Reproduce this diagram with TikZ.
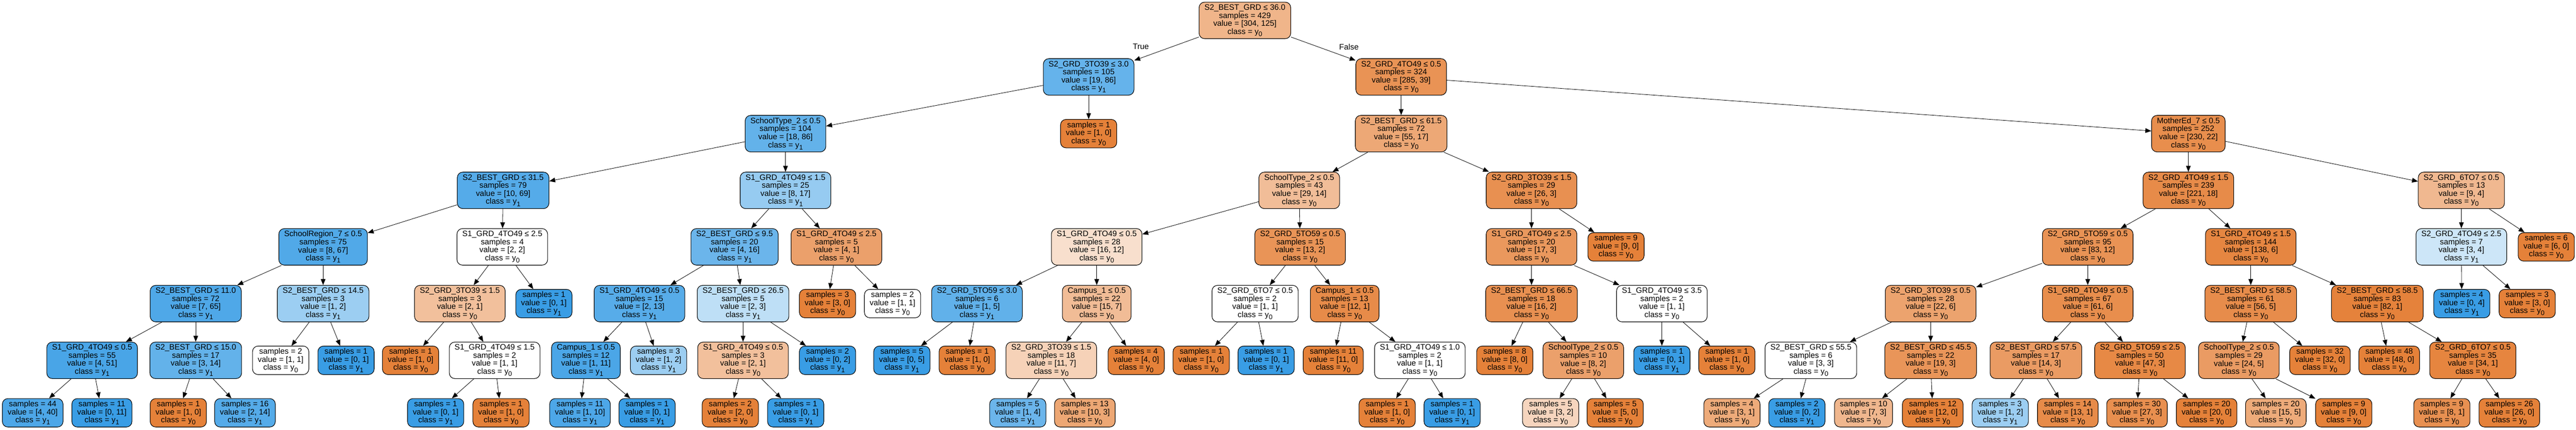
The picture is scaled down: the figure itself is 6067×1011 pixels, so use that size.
\documentclass[tikz,border=0pt]{standalone}
\usepackage{fontspec}
\setmainfont{Liberation Sans}
\usetikzlibrary{arrows.meta}
\definecolor{cz}{RGB}{229,129,57}
\definecolor{co}{RGB}{57,157,229}
\newcommand{\nodefont}{\fontsize{18.67pt}{18.9pt}\selectfont}
\newcommand{\ysub}[1]{y\raisebox{-5pt}{\fontsize{15.5pt}{15.5pt}\selectfont #1}}
\newcommand{\tnode}[8]{\node[tn,fill=#4] (#1) at (#2,-#3) {#5\\samples = #6\\value = [#7]\\class = \ysub{#8}};}
\newcommand{\tleaf}[7]{\node[tl,fill=#4] (#1) at (#2,-#3) {samples = #5\\value = [#6]\\class = \ysub{#7}};}
\tikzset{
  tn/.style={draw=black, line width=1.3pt, rounded corners=13pt, align=center, font=\nodefont,
             inner xsep=12.5pt, inner ysep=0pt, minimum height=86pt},
  tl/.style={tn, minimum height=67pt},
  edg/.style={-{Triangle[length=14pt,width=11pt]}, line width=1pt, draw=black},
  lbl/.style={font=\nodefont, inner sep=0pt}
}
\begin{document}
\begin{tikzpicture}[x=1pt,y=1pt]
\useasboundingbox (0,0) rectangle (6067,-1011);
% level 0
\tnode{r}{2932}{48}{cz!59}{S2\_BEST\_GRD ≤ 36.0}{429}{304, 125}{0}
% level 1
\tnode{a}{2564}{181}{co!78}{S2\_GRD\_3TO39 ≤ 3.0}{105}{19, 86}{1}
\tnode{b}{3300}{181}{cz!86}{S2\_GRD\_4TO49 ≤ 0.5}{324}{285, 39}{0}
% level 2
\tnode{aa}{1850}{314.5}{co!79}{SchoolType\_2 ≤ 0.5}{104}{18, 86}{1}
\tleaf{ab}{2564}{314.5}{cz}{1}{1, 0}{0}
\tnode{ba}{3300}{314.5}{cz!69}{S2\_BEST\_GRD ≤ 61.5}{72}{55, 17}{0}
\tnode{bb}{5154}{314.5}{cz!90}{MotherEd\_7 ≤ 0.5}{252}{230, 22}{0}
% level 3
\tnode{aaa}{1185}{448}{co!86}{S2\_BEST\_GRD ≤ 31.5}{79}{10, 69}{1}
\tnode{aab}{1850}{448}{co!53}{S1\_GRD\_4TO49 ≤ 1.5}{25}{8, 17}{1}
\tnode{baa}{3060}{448}{cz!52}{SchoolType\_2 ≤ 0.5}{43}{29, 14}{0}
\tnode{bab}{3607}{448}{cz!88}{S2\_GRD\_3TO39 ≤ 1.5}{29}{26, 3}{0}
\tnode{bba}{5154}{448}{cz!92}{S2\_GRD\_4TO49 ≤ 1.5}{239}{221, 18}{0}
\tnode{bbb}{5797}{448}{cz!56}{S2\_GRD\_6TO7 ≤ 0.5}{13}{9, 4}{0}
% level 4
\tnode{d1}{761}{581}{co!88}{SchoolRegion\_7 ≤ 0.5}{75}{8, 67}{1}
\tnode{d2}{1183}{581}{white}{S1\_GRD\_4TO49 ≤ 2.5}{4}{2, 2}{0}
\tnode{d3}{1730}{581}{co!75}{S2\_BEST\_GRD ≤ 9.5}{20}{4, 16}{1}
\tnode{d4}{1970}{581}{cz!75}{S1\_GRD\_4TO49 ≤ 2.5}{5}{4, 1}{0}
\tnode{d5}{2583}{581}{cz!25}{S1\_GRD\_4TO49 ≤ 0.5}{28}{16, 12}{0}
\tnode{d6}{3062}{581}{cz!85}{S2\_GRD\_5TO59 ≤ 0.5}{15}{13, 2}{0}
\tnode{d7}{3607}{581}{cz!82}{S1\_GRD\_4TO49 ≤ 2.5}{20}{17, 3}{0}
\tleaf{d8}{3806}{581}{cz}{9}{9, 0}{0}
\tnode{d9}{4917}{581}{cz!86}{S2\_GRD\_5TO59 ≤ 0.5}{95}{83, 12}{0}
\tnode{d10}{5301}{581}{cz!96}{S1\_GRD\_4TO49 ≤ 1.5}{144}{138, 6}{0}
\tnode{d11}{5797}{581}{co!25}{S2\_GRD\_4TO49 ≤ 2.5}{7}{3, 4}{1}
\tleaf{d12}{5997}{581}{cz}{6}{6, 0}{0}
% level 5
\tnode{e1}{461}{714.5}{co!89}{S2\_BEST\_GRD ≤ 11.0}{72}{7, 65}{1}
\tnode{e2}{761}{714.5}{co!50}{S2\_BEST\_GRD ≤ 14.5}{3}{1, 2}{1}
\tnode{e3}{1083}{714.5}{cz!50}{S2\_GRD\_3TO39 ≤ 1.5}{3}{2, 1}{0}
\tleaf{e4}{1281}{714.5}{co}{1}{0, 1}{1}
\tnode{e5}{1506}{714.5}{co!85}{S1\_GRD\_4TO49 ≤ 0.5}{15}{2, 13}{1}
\tnode{e6}{1750}{714.5}{co!33}{S2\_BEST\_GRD ≤ 26.5}{5}{2, 3}{1}
\tleaf{e7}{1949}{714.5}{cz}{3}{3, 0}{0}
\tleaf{e8}{2102}{714.5}{white}{2}{1, 1}{0}
\tnode{e9}{2301}{714.5}{co!80}{S2\_GRD\_5TO59 ≤ 3.0}{6}{1, 5}{1}
\tnode{e10}{2583}{714.5}{cz!53}{Campus\_1 ≤ 0.5}{22}{15, 7}{0}
\tnode{e11}{2956}{714.5}{white}{S2\_GRD\_6TO7 ≤ 0.5}{2}{1, 1}{0}
\tnode{e12}{3167}{714.5}{cz!92}{Campus\_1 ≤ 0.5}{13}{12, 1}{0}
\tnode{e13}{3607}{714.5}{cz!88}{S2\_BEST\_GRD ≤ 66.5}{18}{16, 2}{0}
\tnode{e14}{3914}{714.5}{white}{S1\_GRD\_4TO49 ≤ 3.5}{2}{1, 1}{0}
\tnode{e15}{4547}{714.5}{cz!73}{S2\_GRD\_3TO39 ≤ 0.5}{28}{22, 6}{0}
\tnode{e16}{4917}{714.5}{cz!90}{S1\_GRD\_4TO49 ≤ 0.5}{67}{61, 6}{0}
\tnode{e17}{5301}{714.5}{cz!91}{S2\_BEST\_GRD ≤ 58.5}{61}{56, 5}{0}
\tnode{e18}{5599}{714.5}{cz!99}{S2\_BEST\_GRD ≤ 58.5}{83}{82, 1}{0}
\tleaf{e19}{5798}{714.5}{co}{4}{0, 4}{1}
\tleaf{e20}{5952}{714.5}{cz}{3}{3, 0}{0}
% level 6
\tnode{f1}{217}{848}{co!92}{S1\_GRD\_4TO49 ≤ 0.5}{55}{4, 51}{1}
\tnode{f2}{461}{848}{co!79}{S2\_BEST\_GRD ≤ 15.0}{17}{3, 14}{1}
\tleaf{f3}{661}{848}{white}{2}{1, 1}{0}
\tleaf{f4}{815}{848}{co}{1}{0, 1}{1}
\tleaf{f5}{967}{848}{cz}{1}{1, 0}{0}
\tnode{f6}{1165}{848}{white}{S1\_GRD\_4TO49 ≤ 1.5}{2}{1, 1}{0}
\tnode{f7}{1380}{848}{co!91}{Campus\_1 ≤ 0.5}{12}{1, 11}{1}
\tleaf{f8}{1551}{848}{co!50}{3}{1, 2}{1}
\tnode{f9}{1750}{848}{cz!50}{S1\_GRD\_4TO49 ≤ 0.5}{3}{2, 1}{0}
\tleaf{f10}{1949}{848}{co}{2}{0, 2}{1}
\tleaf{f11}{2124}{848}{co}{5}{0, 5}{1}
\tleaf{f12}{2278}{848}{cz}{1}{1, 0}{0}
\tnode{f13}{2476}{848}{cz!36}{S2\_GRD\_3TO39 ≤ 1.5}{18}{11, 7}{0}
\tleaf{f14}{2676}{848}{cz}{4}{4, 0}{0}
\tleaf{f15}{2829}{848}{cz}{1}{1, 0}{0}
\tleaf{f16}{2982}{848}{co}{1}{0, 1}{1}
\tleaf{f17}{3140}{848}{cz}{11}{11, 0}{0}
\tnode{f18}{3344}{848}{white}{S1\_GRD\_4TO49 ≤ 1.0}{2}{1, 1}{0}
\tleaf{f19}{3544}{848}{cz}{8}{8, 0}{0}
\tnode{f20}{3729}{848}{cz!75}{SchoolType\_2 ≤ 0.5}{10}{8, 2}{0}
\tleaf{f21}{3914}{848}{co}{1}{0, 1}{1}
\tleaf{f22}{4067}{848}{cz}{1}{1, 0}{0}
\tnode{f23}{4265}{848}{white}{S2\_BEST\_GRD ≤ 55.5}{6}{3, 3}{0}
\tnode{f24}{4547}{848}{cz!84}{S2\_BEST\_GRD ≤ 45.5}{22}{19, 3}{0}
\tnode{f25}{4795}{848}{cz!79}{S2\_BEST\_GRD ≤ 57.5}{17}{14, 3}{0}
\tnode{f26}{5040}{848}{cz!94}{S2\_GRD\_5TO59 ≤ 2.5}{50}{47, 3}{0}
\tnode{f27}{5273}{848}{cz!79}{SchoolType\_2 ≤ 0.5}{29}{24, 5}{0}
\tleaf{f28}{5464}{848}{cz}{32}{32, 0}{0}
\tleaf{f29}{5627}{848}{cz}{48}{48, 0}{0}
\tnode{f30}{5824}{848}{cz!97}{S2\_GRD\_6TO7 ≤ 0.5}{35}{34, 1}{0}
% level 7
\tleaf{g1}{77}{971.5}{co!90}{44}{4, 40}{1}
\tleaf{g2}{240}{971.5}{co}{11}{0, 11}{1}
\tleaf{g3}{420}{971.5}{cz}{1}{1, 0}{0}
\tleaf{g4}{577}{971.5}{co!86}{16}{2, 14}{1}
\tleaf{g5}{1026}{971.5}{co}{1}{0, 1}{1}
\tleaf{g6}{1180}{971.5}{cz}{1}{1, 0}{0}
\tleaf{g7}{1366}{971.5}{co!90}{11}{1, 10}{1}
\tleaf{g8}{1524}{971.5}{co}{1}{0, 1}{1}
\tleaf{g9}{1720}{971.5}{cz}{2}{2, 0}{0}
\tleaf{g10}{1874}{971.5}{co}{1}{0, 1}{1}
\tleaf{g11}{2397}{971.5}{co!75}{5}{1, 4}{1}
\tleaf{g12}{2555}{971.5}{cz!70}{13}{10, 3}{0}
\tleaf{g13}{3267}{971.5}{cz}{1}{1, 0}{0}
\tleaf{g14}{3420}{971.5}{co}{1}{0, 1}{1}
\tleaf{g15}{3652}{971.5}{cz!33}{5}{3, 2}{0}
\tleaf{g16}{3804}{971.5}{cz}{5}{5, 0}{0}
\tleaf{g17}{4079}{971.5}{cz!67}{4}{3, 1}{0}
\tleaf{g18}{4232}{971.5}{co}{2}{0, 2}{1}
\tleaf{g19}{4389}{971.5}{cz!57}{10}{7, 3}{0}
\tleaf{g20}{4552}{971.5}{cz}{12}{12, 0}{0}
\tleaf{g21}{4711}{971.5}{co!50}{3}{1, 2}{1}
\tleaf{g22}{4870}{971.5}{cz!92}{14}{13, 1}{0}
\tleaf{g23}{5033}{971.5}{cz!89}{30}{27, 3}{0}
\tleaf{g24}{5197}{971.5}{cz}{20}{20, 0}{0}
\tleaf{g25}{5360}{971.5}{cz!67}{20}{15, 5}{0}
\tleaf{g26}{5520}{971.5}{cz}{9}{9, 0}{0}
\tleaf{g27}{5751}{971.5}{cz!88}{9}{8, 1}{0}
\tleaf{g28}{5910}{971.5}{cz}{26}{26, 0}{0}
% edges
\foreach \p/\c in {r/a, r/b, a/aa, a/ab, b/ba, b/bb,
  aa/aaa, aa/aab, ba/baa, ba/bab, bb/bba, bb/bbb,
  aaa/d1, aaa/d2, aab/d3, aab/d4, baa/d5, baa/d6, bab/d7, bab/d8, bba/d9, bba/d10, bbb/d11, bbb/d12,
  d1/e1, d1/e2, d2/e3, d2/e4, d3/e5, d3/e6, d4/e7, d4/e8, d5/e9, d5/e10, d6/e11, d6/e12,
  d7/e13, d7/e14, d9/e15, d9/e16, d10/e17, d10/e18, d11/e19, d11/e20,
  e1/f1, e1/f2, e2/f3, e2/f4, e3/f5, e3/f6, e5/f7, e5/f8, e6/f9, e6/f10, e9/f11, e9/f12,
  e10/f13, e10/f14, e11/f15, e11/f16, e12/f17, e12/f18, e13/f19, e13/f20, e14/f21, e14/f22,
  e15/f23, e15/f24, e16/f25, e16/f26, e17/f27, e17/f28, e18/f29, e18/f30,
  f1/g1, f1/g2, f2/g3, f2/g4, f6/g5, f6/g6, f7/g7, f7/g8, f9/g9, f9/g10, f13/g11, f13/g12,
  f18/g13, f18/g14, f20/g15, f20/g16, f23/g17, f23/g18, f24/g19, f24/g20, f25/g21, f25/g22,
  f26/g23, f26/g24, f27/g25, f27/g26, f30/g27, f30/g28}
  \draw[edg] (\p) -- (\c);
\node[lbl] (ltrue) at (2687,-110) {True};
\node[lbl] (lfalse) at (3177,-110) {False};
\end{tikzpicture}
\end{document}
